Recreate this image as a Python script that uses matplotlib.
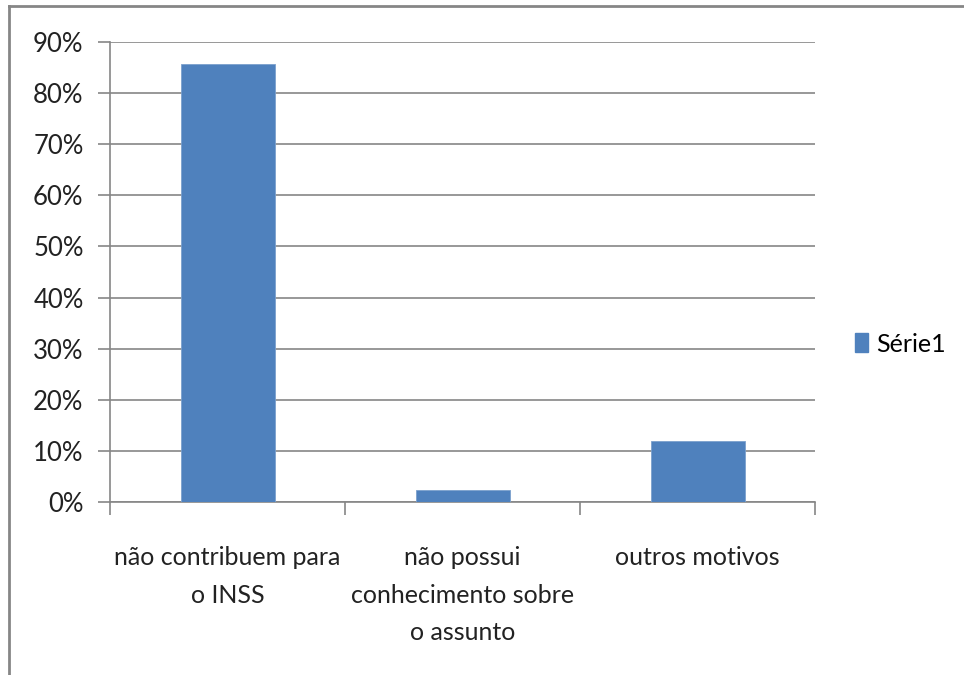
import numpy as np
import matplotlib.pyplot as plt
from matplotlib.lines import Line2D
from matplotlib.patches import Patch

categories = ['não contribuem para\no INSS', 'não possui\nconhecimento sobre\no assunto', 'outros motivos']
values = [85.7, 2.4, 11.9]
yticks = [0, 10, 20, 30, 40, 50, 60, 70, 80, 90]
series_name = 'Série1'

plt.rcParams['font.family'] = ['Liberation Sans Narrow', 'Lato', 'DejaVu Sans']
grey = '#868686'
blue = '#4F81BD'

fig = plt.figure(figsize=(9.64, 6.75), dpi=100)
ax = fig.add_axes([110/964, 1-502/675, 705/964, 460/675])

x = np.arange(len(categories))
ax.bar(x, values, width=0.4, color=blue, edgecolor='#7BA0CD', linewidth=0.6, zorder=3)

ax.set_xlim(-0.5, len(categories) - 0.5)
ax.set_ylim(0, 90)
ax.set_yticks(yticks)
ax.set_yticklabels([f'{v}%' for v in yticks], fontsize=18.5, color='#222222')
ax.yaxis.grid(True, color=grey, linewidth=1.2, zorder=0)

ax.set_xticks(np.arange(len(categories) + 1) - 0.5)
ax.set_xticklabels([])
ax.set_xticks(x, minor=True)
ax.set_xticklabels(categories, minor=True, fontsize=18, color='#222222', linespacing=1.75)
ax.tick_params(axis='x', which='minor', length=0, pad=32)
ax.tick_params(axis='x', which='major', length=9, width=1.2, color=grey)
ax.tick_params(axis='y', length=9, width=1.2, color=grey, pad=10)

for s in ['top', 'right']:
    ax.spines[s].set_visible(False)
for s in ['left', 'bottom']:
    ax.spines[s].set_color(grey)
    ax.spines[s].set_linewidth(1.2)

# chart area border (left and top only, rest is cropped)
fig.add_artist(Line2D([9/964, 9/964], [0, 1-6/675], transform=fig.transFigure, color=grey, linewidth=2))
fig.add_artist(Line2D([9/964, 1], [1-6/675, 1-6/675], transform=fig.transFigure, color=grey, linewidth=2))

fig.legend(handles=[Patch(color=blue, label=series_name)], loc='center left',
           bbox_to_anchor=(855/964, 1-344/675), frameon=False, fontsize=18,
           handlelength=0.5, handleheight=0.8, handletextpad=0.35,
           borderpad=0, borderaxespad=0)

fig.savefig('out.png', dpi=100)
